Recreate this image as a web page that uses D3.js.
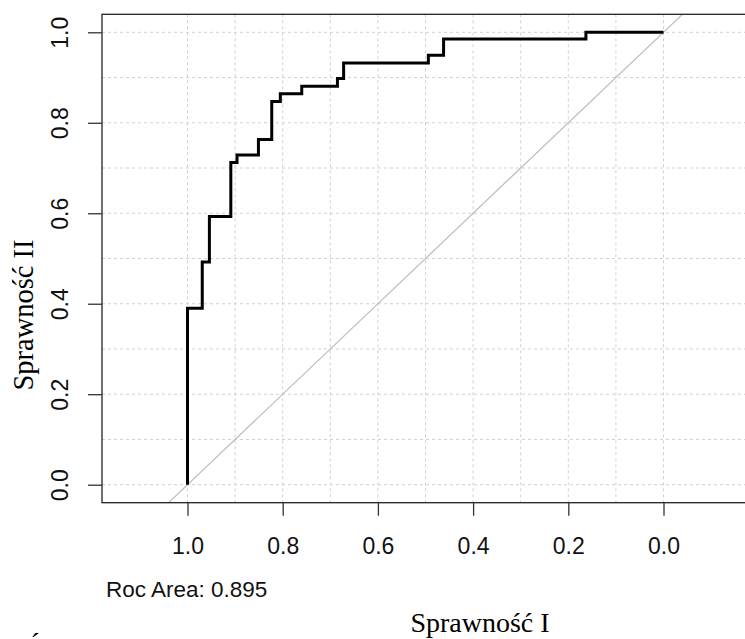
<!DOCTYPE html>
<html>
<head>
  <meta charset="utf-8">
  <title>ROC curve</title>
  <script src="https://cdn.jsdelivr.net/npm/d3@7/dist/d3.min.js"></script>
  <style>
    html, body { margin: 0; padding: 0; background: #fff; }
    svg { display: block; }
  </style>
</head>
<body>
  <svg width="745" height="639"></svg>

  <script>
    // corner points of the ROC curve
    const specificity = [1.0, 1.0, 0.969, 0.954, 0.909, 0.896, 0.851, 0.823, 0.805, 0.760, 0.685, 0.672, 0.494, 0.462, 0.163, 0.0];
    const sensitivity = [0.0, 0.390, 0.492, 0.593, 0.712, 0.729, 0.763, 0.847, 0.864, 0.881, 0.898, 0.932, 0.949, 0.985, 1.0, 1.0];

    const tickValues = [1.0, 0.8, 0.6, 0.4, 0.2, 0.0];
    const gridValues = [0, 0.1, 0.2, 0.3, 0.4, 0.5, 0.6, 0.7, 0.8, 0.9, 1.0];
    const aucLabel = "Roc Area: 0.895";
    const xTitle = "Sprawność I";
    const yTitle = "Sprawność II";

    const data = specificity.map((d, i) => ({ x: d, y: sensitivity[i] }));

    const svg = d3.select("svg");

    // plot box (right edge falls just outside the picture)
    const box = { left: 102, right: 748, top: 14.3, bottom: 502.7 };

    const xScale = d3.scaleLinear()
      .domain([1, 0])
      .range([187.5, 663.5]);

    const yScale = d3.scaleLinear()
      .domain([0, 1])
      .range([484.7, 32.3]);

    svg.append("clipPath")
      .attr("id", "clip")
      .append("rect")
      .attr("x", box.left)
      .attr("y", box.top)
      .attr("width", box.right - box.left)
      .attr("height", box.bottom - box.top);

    // grid
    const grid = svg.append("g").attr("stroke", "#d0d0d0").attr("stroke-dasharray", "3,3").attr("stroke-width", 1);
    grid.selectAll(".gx")
      .data(gridValues)
      .join("line")
      .attr("x1", d => xScale(d)).attr("x2", d => xScale(d))
      .attr("y1", box.top).attr("y2", box.bottom);
    grid.selectAll(".gy")
      .data(gridValues)
      .join("line")
      .attr("class", "gy")
      .attr("x1", box.left).attr("x2", box.right)
      .attr("y1", d => yScale(d)).attr("y2", d => yScale(d));

    // chance diagonal
    svg.append("line")
      .attr("clip-path", "url(#clip)")
      .attr("x1", xScale(1.2)).attr("y1", yScale(-0.2))
      .attr("x2", xScale(-0.2)).attr("y2", yScale(1.2))
      .attr("stroke", "#bdbdbd")
      .attr("stroke-width", 1.2);

    // roc curve
    const line = d3.line()
      .x(d => xScale(d.x))
      .y(d => yScale(d.y))
      .curve(d3.curveStepAfter);

    svg.append("path")
      .datum(data)
      .attr("fill", "none")
      .attr("stroke", "black")
      .attr("stroke-width", 3)
      .attr("d", line);

    // frame
    svg.append("rect")
      .attr("x", box.left)
      .attr("y", box.top)
      .attr("width", box.right - box.left)
      .attr("height", box.bottom - box.top)
      .attr("fill", "none")
      .attr("stroke", "#222")
      .attr("stroke-width", 1.3);

    const tickFont = "'Liberation Sans', Arial, sans-serif";

    const xAxis = d3.axisBottom(xScale)
      .tickValues(tickValues)
      .tickFormat(d3.format(".1f"))
      .tickSize(13);

    const xg = svg.append("g")
      .attr("transform", `translate(0,${box.bottom})`)
      .call(xAxis);
    xg.select(".domain").remove();
    xg.selectAll(".tick line").attr("stroke", "#333").attr("stroke-width", 1.3);
    xg.selectAll(".tick text")
      .attr("y", 51.5)
      .attr("dy", 0)
      .attr("fill", "#111")
      .style("font-family", tickFont)
      .style("font-size", "23px");

    const yAxis = d3.axisLeft(yScale)
      .tickValues(tickValues)
      .tickFormat(d3.format(".1f"))
      .tickSize(14);

    const yg = svg.append("g")
      .attr("transform", `translate(${box.left},0)`)
      .call(yAxis);
    yg.select(".domain").remove();
    yg.selectAll(".tick line").attr("stroke", "#333").attr("stroke-width", 1.3);
    yg.selectAll(".tick text")
      .attr("transform", "rotate(-90)")
      .attr("x", 0)
      .attr("y", -34)
      .attr("dy", 0)
      .attr("text-anchor", "middle")
      .attr("fill", "#111")
      .style("font-family", tickFont)
      .style("font-size", "23px");

    // labels
    svg.append("text")
      .attr("x", 106)
      .attr("y", 597)
      .attr("fill", "#111")
      .style("font-family", tickFont)
      .style("font-size", "22.5px")
      .text(aucLabel);

    const serif = "'Liberation Serif', 'Times New Roman', serif";

    svg.append("text")
      .attr("x", 480)
      .attr("y", 632)
      .attr("text-anchor", "middle")
      .style("font-family", serif)
      .style("font-size", "28px")
      .text(xTitle);

    svg.append("text")
      .attr("transform", "translate(33,315) rotate(-90)")
      .attr("text-anchor", "middle")
      .style("font-family", serif)
      .style("font-size", "28.5px")
      .text(yTitle);

    // cropped fragment of a line below the picture
    svg.append("text")
      .attr("x", 26)
      .attr("y", 657)
      .style("font-family", serif)
      .style("font-size", "28px")
      .text("Ś");
  </script>
</body>
</html>
